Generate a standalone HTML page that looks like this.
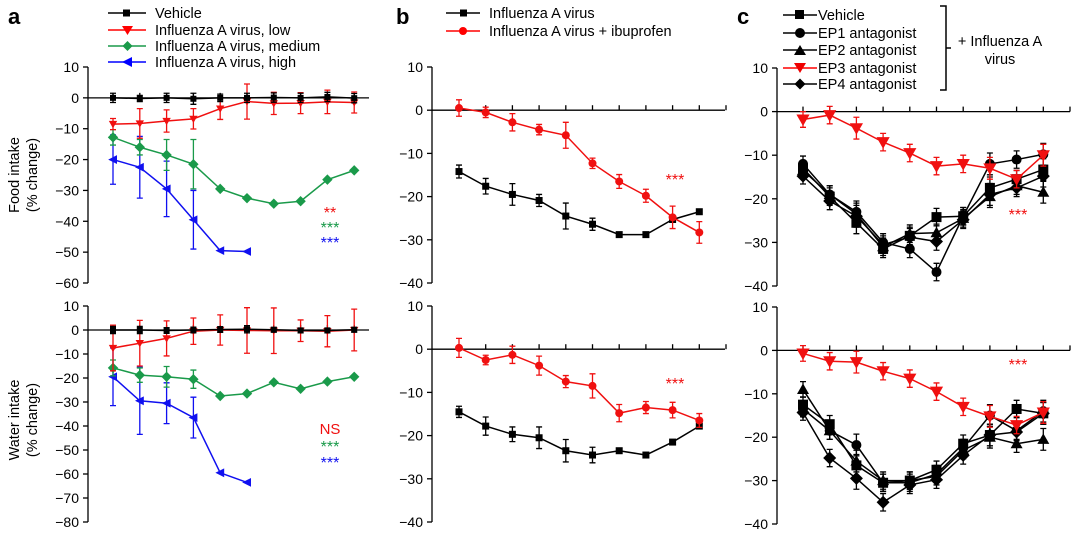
<!DOCTYPE html>
<html><head><meta charset="utf-8"><style>
html,body{margin:0;padding:0;background:#fff;width:1080px;height:533px;overflow:hidden}
svg{display:block;font-family:"Liberation Sans",Arial,sans-serif}
</style></head><body>
<svg id="fig" width="1080" height="533" viewBox="0 0 1080 533">
<g>
<text x="8" y="24" font-size="22" font-weight="bold">a</text>
<g font-size="14.5">
<line x1="108" y1="13" x2="146" y2="13" stroke="#000" stroke-width="1.5"/><rect x="123" y="9.5" width="7" height="7"/><text x="155" y="18">Vehicle</text>
<line x1="108" y1="30" x2="146" y2="30" stroke="#f00" stroke-width="1.5"/><path d="M122,26 L133,26 L127.5,35Z" fill="#f00"/><text x="155" y="35">Influenza A virus, low</text>
<line x1="108" y1="46" x2="146" y2="46" stroke="#1a9a4a" stroke-width="1.5"/><path d="M127.5,41 L132.5,46 L127.5,51 L122.5,46Z" fill="#1a9a4a"/><text x="155" y="51">Influenza A virus, medium</text>
<line x1="108" y1="62" x2="146" y2="62" stroke="#00f" stroke-width="1.5"/><path d="M122,62 L132,57 L132,67Z" fill="#00f"/><text x="155" y="67">Influenza A virus, high</text>
</g></g>
<g>
<text x="396" y="24" font-size="22" font-weight="bold">b</text>
<g font-size="14.5">
<line x1="446" y1="13" x2="480" y2="13" stroke="#000" stroke-width="1.5"/><rect x="460" y="9.5" width="7" height="7"/><text x="489" y="18">Influenza A virus</text>
<line x1="446" y1="31" x2="480" y2="31" stroke="#f00" stroke-width="1.5"/><circle cx="463" cy="31" r="4" fill="#f00"/><text x="489" y="36">Influenza A virus + ibuprofen</text>
</g></g>
<g>
<text x="737" y="24" font-size="22" font-weight="bold">c</text>
<g font-size="14.5">
<line x1="783" y1="15" x2="817" y2="15" stroke="#000" stroke-width="1.5"/><rect x="795" y="10" width="9" height="9"/><text x="818" y="20">Vehicle</text>
<line x1="783" y1="33" x2="817" y2="33" stroke="#000" stroke-width="1.5"/><circle cx="800" cy="33" r="5"/><text x="818" y="38">EP1 antagonist</text>
<line x1="783" y1="50" x2="817" y2="50" stroke="#000" stroke-width="1.5"/><path d="M794,55 L806,55 L800,45Z"/><text x="818" y="55">EP2 antagonist</text>
<line x1="783" y1="68" x2="817" y2="68" stroke="#f00" stroke-width="1.5"/><path d="M794,63 L806,63 L800,73Z" fill="#e00"/><text x="818" y="73">EP3 antagonist</text>
<line x1="783" y1="84" x2="817" y2="84" stroke="#000" stroke-width="1.5"/><path d="M800,78.5 L805.5,84 L800,89.5 L794.5,84Z"/><text x="818" y="89">EP4 antagonist</text>
<path d="M940,6 L946,6 L946,90 L940,90 M946,48 L951,48" fill="none" stroke="#000" stroke-width="1.5"/>
<text x="1000" y="46" text-anchor="middle">+ Influenza A</text>
<text x="1000" y="64" text-anchor="middle">virus</text>
</g></g>
</svg>
<script>
// ---- data (x = day index 1..10) ----
const aFoodVehicle=[0,-0.2,0,-0.3,0,0,0.1,0,0.3,-0.1];
const aFoodVehicleErr=[1.5,1,1.5,1.8,1.2,1.5,1.5,1.5,1.5,1.5];
const aFoodLow=[-8.5,-8.3,-7.5,-6.8,-3.5,-1.2,-1.8,-1.7,-1.3,-1.5];
const aFoodLowErr=[1.8,4.8,3.6,3.3,3.5,5.7,3.6,3.4,3.8,3.4];
const aFoodMed=[-12.8,-16,-18.5,-21.5,-29.5,-32.5,-34.3,-33.5,-26.5,-23.5];
const aFoodMedErr=[2.5,2.5,5,8,0,0,0,0,0,0];
const aFoodHigh=[-20,-22.5,-29.5,-39.5,-49.5,-49.8];
const aFoodHighErr=[8,10,9,9.5,0,0];
const aWaterVehicle=[0,0,-0.2,0,0.2,0.3,0.1,-0.2,-0.2,0.1];
const aWaterVehicleErr=[1.5,1.5,1.2,1.2,1.2,1.5,1,1,1,1];
const aWaterLow=[-7.5,-5.5,-3.5,-0.5,0,-0.2,-0.3,-0.3,-0.5,0];
const aWaterLowErr=[9.5,9.5,7.3,5.5,6.3,9.5,9.5,4.5,6.5,8.7];
const aWaterMed=[-15.8,-18.8,-19.5,-20.5,-27.5,-26.5,-21.8,-24.5,-21.5,-19.5];
const aWaterMedErr=[3.3,3,4.3,3.8,0,0,0,0,0,0];
const aWaterHigh=[-19.5,-29.5,-30.5,-36.5,-59.5,-63.5];
const aWaterHighErr=[12,14,8.5,8.5,0,0];
const bFoodVirus=[-14.2,-17.6,-19.5,-20.9,-24.5,-26.4,-28.8,-28.8,-25.3,-23.5];
const bFoodVirusErr=[1.5,1.8,2.5,1.4,3,1.4,0,0,0,0];
const bFoodIbu=[0.5,-0.5,-2.8,-4.5,-5.8,-12.3,-16.5,-19.8,-24.8,-28.3];
const bFoodIbuErr=[1.9,1.2,2,1.2,3,1.2,1.6,1.5,2.6,2.5];
const bWaterVirus=[-14.5,-17.8,-19.7,-20.5,-23.5,-24.5,-23.5,-24.5,-21.5,-17.8];
const bWaterVirusErr=[1.3,2.1,1.7,2.5,2.6,1.8,0,0,0,0];
const bWaterIbu=[0.3,-2.5,-1.3,-3.8,-7.5,-8.5,-14.8,-13.5,-14.1,-16.5];
const bWaterIbuErr=[2.2,1.1,2,2.2,1.4,2.8,2,1.4,1.8,1.6];
const cFoodVehicle=[-13,-19.5,-25.5,-31.5,-28.5,-24.2,-24,-17.5,-15.5,-13.3];
const cFoodEP1=[-12,-19,-23,-30,-31.5,-36.8,-24,-12,-11,-9.8];
const cFoodEP2=[-13.5,-19,-23.5,-31,-28,-27.8,-24.5,-19.5,-17,-18.5];
const cFoodEP3=[-1.8,-0.8,-3.8,-7,-9.5,-12.5,-12,-13,-15.5,-10];
const cFoodEP4=[-14.8,-20.5,-24,-30.5,-28.8,-29.8,-24.8,-19,-17.5,-14.8];
const cWaterVehicle=[-12.5,-17,-26.5,-30.5,-30,-27.5,-21.5,-19.5,-13.5,-14.5];
const cWaterEP1=[-13.5,-18.5,-21.8,-30.5,-30.5,-28.5,-22.5,-15,-18.5,-14];
const cWaterEP2=[-9,-18.5,-25.5,-30,-30,-29,-23,-20,-21.5,-20.5];
const cWaterEP3=[-0.7,-2.5,-2.7,-4.8,-6.5,-9.5,-13,-15.2,-17.2,-14.3];
const cWaterEP4=[-14.3,-24.8,-29.5,-35,-31,-29.8,-24.2,-19.5,-18.8,-14.5];
const cErr=[1.8,2,2.5,2,2,2,2,2.5,2,2.5,2];
const aFoodTicks=[10,0,-10,-20,-30,-40,-50,-60];
const aWaterTicks=[10,0,-10,-20,-30,-40,-50,-60,-70,-80];
const bcTicks=[10,0,-10,-20,-30,-40];

const NS='http://www.w3.org/2000/svg';
const fig=document.getElementById('fig');
function mk(tag,attrs,parent){const e=document.createElementNS(NS,tag);for(const k in attrs)e.setAttribute(k,attrs[k]);(parent||fig).appendChild(e);return e;}

function panel(name,cfg){
  const g=mk('g',{});
  
  
  const ys=v=>cfg.y0+(cfg.ymax-v)/(cfg.ymax-cfg.ymin)*(cfg.y1-cfg.y0);
  const xs=i=>cfg.xfirst+i*cfg.dx;
  cfg.ys=ys;cfg.xs=xs;
  const ax=mk('g',{stroke:'#000','stroke-width':1.3},g);
  
  
  mk('line',{x1:cfg.ax,y1:ys(cfg.ymax),x2:cfg.ax,y2:ys(cfg.ymin)},ax);
  cfg.ticks.forEach(t=>{
    mk('line',{x1:cfg.ax-5,y1:ys(t),x2:cfg.ax,y2:ys(t)},ax);
    const tx=mk('text',{x:cfg.ax-9,y:ys(t)+5,'text-anchor':'end','font-size':14,stroke:'none',fill:'#000'},g);
    
    
    tx.textContent=(t<0?'\u2212'+(-t):t);
  });
  const xa=mk('g',{stroke:'#000','stroke-width':1.3},g);
  
  
  mk('line',{x1:cfg.ax,y1:ys(0),x2:cfg.xend,y2:ys(0)},xa);
  for(let i=0;i<=10;i++){const x=xs(i)+(cfg.tickShift||0);if(x<=cfg.xend+1)mk('line',{x1:x,y1:ys(0),x2:x,y2:ys(0)-5},xa);}
  cfg.g=g;
  return cfg;
}
function marker(g,shape,x,y,s,col){
  if(shape==='sq')return mk('rect',{x:x-s/2,y:y-s/2,width:s,height:s,fill:col},g);
  if(shape==='ci')return mk('circle',{cx:x,cy:y,r:s/2,fill:col},g);
  if(shape==='dn')return mk('path',{d:`M${x-s*0.6},${y-s*0.45}L${x+s*0.6},${y-s*0.45}L${x},${y+s*0.6}Z`,fill:col},g);
  if(shape==='up')return mk('path',{d:`M${x-s*0.6},${y+s*0.45}L${x+s*0.6},${y+s*0.45}L${x},${y-s*0.6}Z`,fill:col},g);
  if(shape==='di')return mk('path',{d:`M${x},${y-s*0.65}L${x+s*0.65},${y}L${x},${y+s*0.65}L${x-s*0.65},${y}Z`,fill:col},g);
  if(shape==='lt')return mk('path',{d:`M${x-s*0.6},${y}L${x+s*0.5},${y-s*0.55}L${x+s*0.5},${y+s*0.55}Z`,fill:col},g);
}
function series(p,name,vals,errs,col,shape,size){
  const g=mk('g',{},p.g);
  
  
  const pts=vals.map((v,i)=>p.xs(i)+','+p.ys(v)).join(' ');
  mk('polyline',{points:pts,fill:'none',stroke:col,'stroke-width':1.5},g);
  vals.forEach((v,i)=>{
    const e=errs[i]||0;
    if(e>0){const x=p.xs(i);
      mk('path',{d:`M${x},${p.ys(v+e)}L${x},${p.ys(v-e)}M${x-3},${p.ys(v+e)}L${x+3},${p.ys(v+e)}M${x-3},${p.ys(v-e)}L${x+3},${p.ys(v-e)}`,stroke:col,'stroke-width':1.3,fill:'none'},g);}
    const m=marker(g,shape,p.xs(i),p.ys(v),size,col);
    
    
  });
}
function label(p,x,y,txt,col,fs,nm){
  const t=mk('text',{x:x,y:y,fill:col,'font-size':fs,'text-anchor':'middle'},p.g);
  
  
  t.textContent=txt;
}
const RED='#f01010',GRN='#1a9a4a',BLU='#1010f0';
const aF=panel('panel-a-food',{ax:88,ymax:10,ymin:-60,y0:67,y1:283,xfirst:113,dx:26.8,xend:369,ticks:aFoodTicks});
series(aF,'a-food-high',aFoodHigh,aFoodHighErr,BLU,'lt',8);
series(aF,'a-food-medium',aFoodMed,aFoodMedErr,GRN,'di',8);
series(aF,'a-food-low',aFoodLow,aFoodLowErr,RED,'dn',7);
series(aF,'a-food-vehicle',aFoodVehicle,aFoodVehicleErr,'#000','sq',6);
label(aF,330,218,'**',RED,16,'sig-low');label(aF,330,233,'***',GRN,16,'sig-medium');label(aF,330,248,'***',BLU,16,'sig-high');
const aW=panel('panel-a-water',{ax:88,ymax:10,ymin:-80,y0:306,y1:522,xfirst:113,dx:26.8,xend:369,ticks:aWaterTicks});
series(aW,'a-water-high',aWaterHigh,aWaterHighErr,BLU,'lt',8);
series(aW,'a-water-medium',aWaterMed,aWaterMedErr,GRN,'di',8);
series(aW,'a-water-low',aWaterLow,aWaterLowErr,RED,'dn',7);
series(aW,'a-water-vehicle',aWaterVehicle,aWaterVehicleErr,'#000','sq',6);
label(aW,330,434,'NS',RED,15,'sig-ns');label(aW,330,452,'***',GRN,16,'sig-medium');label(aW,330,468,'***',BLU,16,'sig-high');
const bF=panel('panel-b-food',{ax:432,ymax:10,ymin:-40,y0:67,y1:283,xfirst:459,dx:26.7,xend:725,ticks:bcTicks});
series(bF,'b-food-virus',bFoodVirus,bFoodVirusErr,'#000','sq',7);
series(bF,'b-food-ibuprofen',bFoodIbu,bFoodIbuErr,RED,'ci',8);
label(bF,675,185,'***',RED,16,'sig-b-food');
const bW=panel('panel-b-water',{ax:432,ymax:10,ymin:-40,y0:306,y1:522,xfirst:459,dx:26.7,xend:725,ticks:bcTicks});
series(bW,'b-water-virus',bWaterVirus,bWaterVirusErr,'#000','sq',7);
series(bW,'b-water-ibuprofen',bWaterIbu,bWaterIbuErr,RED,'ci',8);
label(bW,675,389,'***',RED,16,'sig-b-water');
const cF=panel('panel-c-food',{ax:777,ymax:10,ymin:-40,y0:68,y1:286,xfirst:803,dx:26.7,xend:1070,ticks:bcTicks});
series(cF,'c-food-vehicle',cFoodVehicle,cErr,'#000','sq',10);
series(cF,'c-food-ep1',cFoodEP1,cErr,'#000','ci',10);
series(cF,'c-food-ep2',cFoodEP2,cErr,'#000','up',10);
series(cF,'c-food-ep4',cFoodEP4,cErr,'#000','di',10);
series(cF,'c-food-ep3',cFoodEP3,cErr,'#f01010','dn',11);
label(cF,1018,220,'***',RED,16,'sig-c-food');
const cW=panel('panel-c-water',{ax:777,ymax:10,ymin:-40,y0:307,y1:524,xfirst:803,dx:26.7,xend:1070,ticks:bcTicks});
series(cW,'c-water-vehicle',cWaterVehicle,cErr,'#000','sq',10);
series(cW,'c-water-ep1',cWaterEP1,cErr,'#000','ci',10);
series(cW,'c-water-ep2',cWaterEP2,cErr,'#000','up',10);
series(cW,'c-water-ep4',cWaterEP4,cErr,'#000','di',10);
series(cW,'c-water-ep3',cWaterEP3,cErr,'#f01010','dn',11);
label(cW,1018,370,'***',RED,16,'sig-c-water');
[['Food intake',175,'y-axis-title-food'],['Water intake',420,'y-axis-title-water']].forEach(([t,cy,nm])=>{
  const g=mk('g',{transform:`translate(0,${cy}) rotate(-90)`,'font-size':14.5,'text-anchor':'middle'});
  
  
  const a=mk('text',{x:0,y:19},g);a.textContent=t;
  const b=mk('text',{x:0,y:37},g);b.textContent='(% change)';
});
</script>
</body></html>
